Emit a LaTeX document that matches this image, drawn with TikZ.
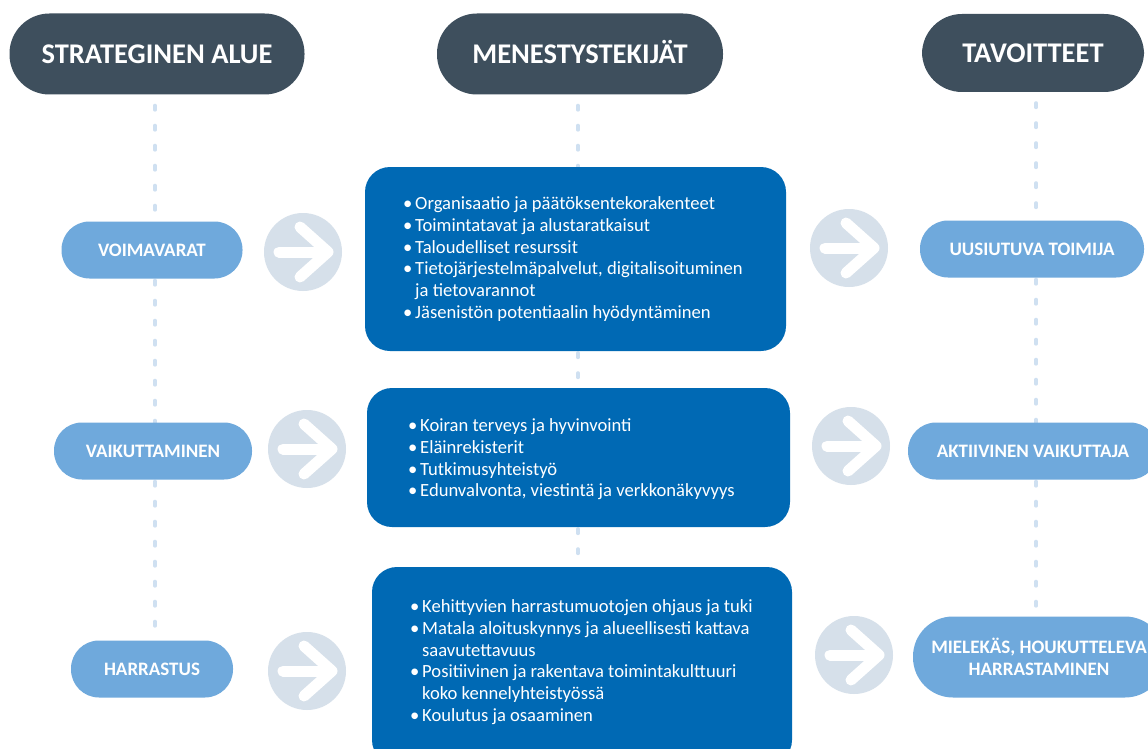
\documentclass[tikz,border=0pt]{standalone}
\usepackage{fontspec}
\setmainfont{Carlito}
\usetikzlibrary{backgrounds}
\definecolor{hdr}{HTML}{3E4F5D}
\definecolor{pill}{HTML}{6FA9DC}
\definecolor{boxblue}{HTML}{0069B4}
\definecolor{circ}{HTML}{D6E0EA}
\definecolor{dashc}{HTML}{CFE0F1}
\newcommand\bul{\makebox[12pt][l]{\textbullet}}
\newcommand\cont{\hspace*{12pt}}
\begin{document}
\begin{tikzpicture}[x=1pt,y=-1pt,
  hdrpill/.style={rectangle, rounded corners=40pt, fill=hdr, text=white, font=\bfseries\fontsize{28.5}{30}\selectfont, inner sep=0pt, text height=18.3pt, text depth=0pt},
  lpill/.style={rectangle, rounded corners=28pt, fill=pill, text=white, font=\bfseries\fontsize{19}{22}\selectfont, inner sep=0pt, align=center, minimum height=57pt},
  onepill/.style={lpill, text height=12.2pt, text depth=0pt},
  bluebox/.style={rectangle, rounded corners=25pt, fill=boxblue, inner sep=0pt},
  btext/.style={text=white, font=\fontsize{18.6}{21.7}\selectfont, align=left, inner sep=0pt, anchor=west},
  dashline/.style={draw=dashc, line width=4pt, line cap=round, dash pattern=on 4pt off 16pt},
  arrowcirc/.style={circle, fill=circ, minimum size=78pt, inner sep=0pt,
    path picture={
      \coordinate (pc) at (path picture bounding box.center);
      \draw[white, line width=11pt, line cap=round, line join=round] ([xshift=-24pt]pc) -- ([xshift=22pt]pc);
      \draw[white, line width=11pt, line cap=round, line join=round] ([xshift=-3pt,yshift=25pt]pc) -- ([xshift=25pt]pc) -- ([xshift=-3pt,yshift=-25pt]pc);
    }}
]
\useasboundingbox (0,0) rectangle (1148,749);
\clip (0,0) rectangle (1148,749);

\coordinate (colL) at (155,0);
\coordinate (colM) at (578,0);
\coordinate (colR) at (1036,0);

% headers
\node[hdrpill, minimum width=295pt, minimum height=81pt] (h1) at (157,54) {STRATEGINEN ALUE};
\node[hdrpill, minimum width=286pt, minimum height=81pt] (h2) at (580,54) {MENESTYSTEKIJÄT};
\node[hdrpill, minimum width=222pt, minimum height=78pt] (h3) at (1033,53) {TAVOITTEET};

% left pills
\node[onepill, minimum width=181pt] (p1) at (152,250) {VOIMAVARAT};
\node[onepill, minimum width=198pt] (p2) at (153,451) {VAIKUTTAMINEN};
\node[onepill, minimum width=162pt] (p3) at (152,669) {HARRASTUS};

% right pills
\node[onepill, minimum width=224pt] (g1) at (1032,249) {UUSIUTUVA TOIMIJA};
\node[onepill, minimum width=250pt] (g2) at (1033,451) {AKTIIVINEN VAIKUTTAJA};
\node[lpill, minimum width=252pt, minimum height=81pt, rounded corners=40pt] (g3) at (1039,657) {MIELEKÄS, HOUKUTTELEVA\\HARRASTAMINEN};

% blue boxes
\node[bluebox, minimum width=421pt, minimum height=184pt] (b1) at (575.5,259) {};
\node[bluebox, minimum width=423pt, minimum height=139pt] (b2) at (578.5,457.5) {};
\node[bluebox, minimum width=420pt, minimum height=198pt] (b3) at (582,666) {};

% arrow circles
\node[arrowcirc] (a1) at (303,252) {};
\node[arrowcirc] (a2) at (307,449) {};
\node[arrowcirc] (a3) at (307,671) {};
\node[arrowcirc] (r1) at (849,248) {};
\node[arrowcirc] (r2) at (851,446) {};
\node[arrowcirc] (r3) at (854,655) {};

% box texts
\node[btext] (t1) at (403,259) {\bul Organisaatio ja päätöksentekorakenteet\\
\bul Toimintatavat ja alustaratkaisut\\
\bul Taloudelliset resurssit\\
\bul Tietojärjestelmäpalvelut, digitalisoituminen\\
\cont ja tietovarannot\\
\bul Jäsenistön potentiaalin hyödyntäminen};
\node[btext] (t2) at (408,459.5) {\bul Koiran terveys ja hyvinvointi\\
\bul Eläinrekisterit\\
\bul Tutkimusyhteistyö\\
\bul Edunvalvonta, viestintä ja verkkonäkyvyys};
\node[btext] (t3) at (410,662) {\bul Kehittyvien harrastumuotojen ohjaus ja tuki\\
\bul Matala aloituskynnys ja alueellisesti kattava\\
\cont saavutettavuus\\
\bul Positiivinen ja rakentava toimintakulttuuri\\
\cont koko kennelyhteistyössä\\
\bul Koulutus ja osaaminen};

% background: white page and dashed connectors
\begin{scope}[on background layer]
\fill[white] (0,0) rectangle (1148,749);
\draw[dashline] ([yshift=-11pt]h1.south -| colL) -- (p1.north -| colL);
\draw[dashline] ([yshift=-2pt]p1.south -| colL) -- (p2.north -| colL);
\draw[dashline] ([yshift=-2pt]p2.south -| colL) -- (p3.north -| colL);
\draw[dashline] ([yshift=-11pt]h2.south -| colM) -- (b1.north -| colM);
\draw[dashline] ([yshift=-2pt]b1.south -| colM) -- (b2.north -| colM);
\draw[dashline] ([yshift=-2pt]b2.south -| colM) -- (b3.north -| colM);
\draw[dashline] ([yshift=-11pt]h3.south -| colR) -- (g1.north -| colR);
\draw[dashline] ([yshift=-2pt]g1.south -| colR) -- (g2.north -| colR);
\draw[dashline] ([yshift=-2pt]g2.south -| colR) -- (g3.north -| colR);
\end{scope}
\end{tikzpicture}
\end{document}
